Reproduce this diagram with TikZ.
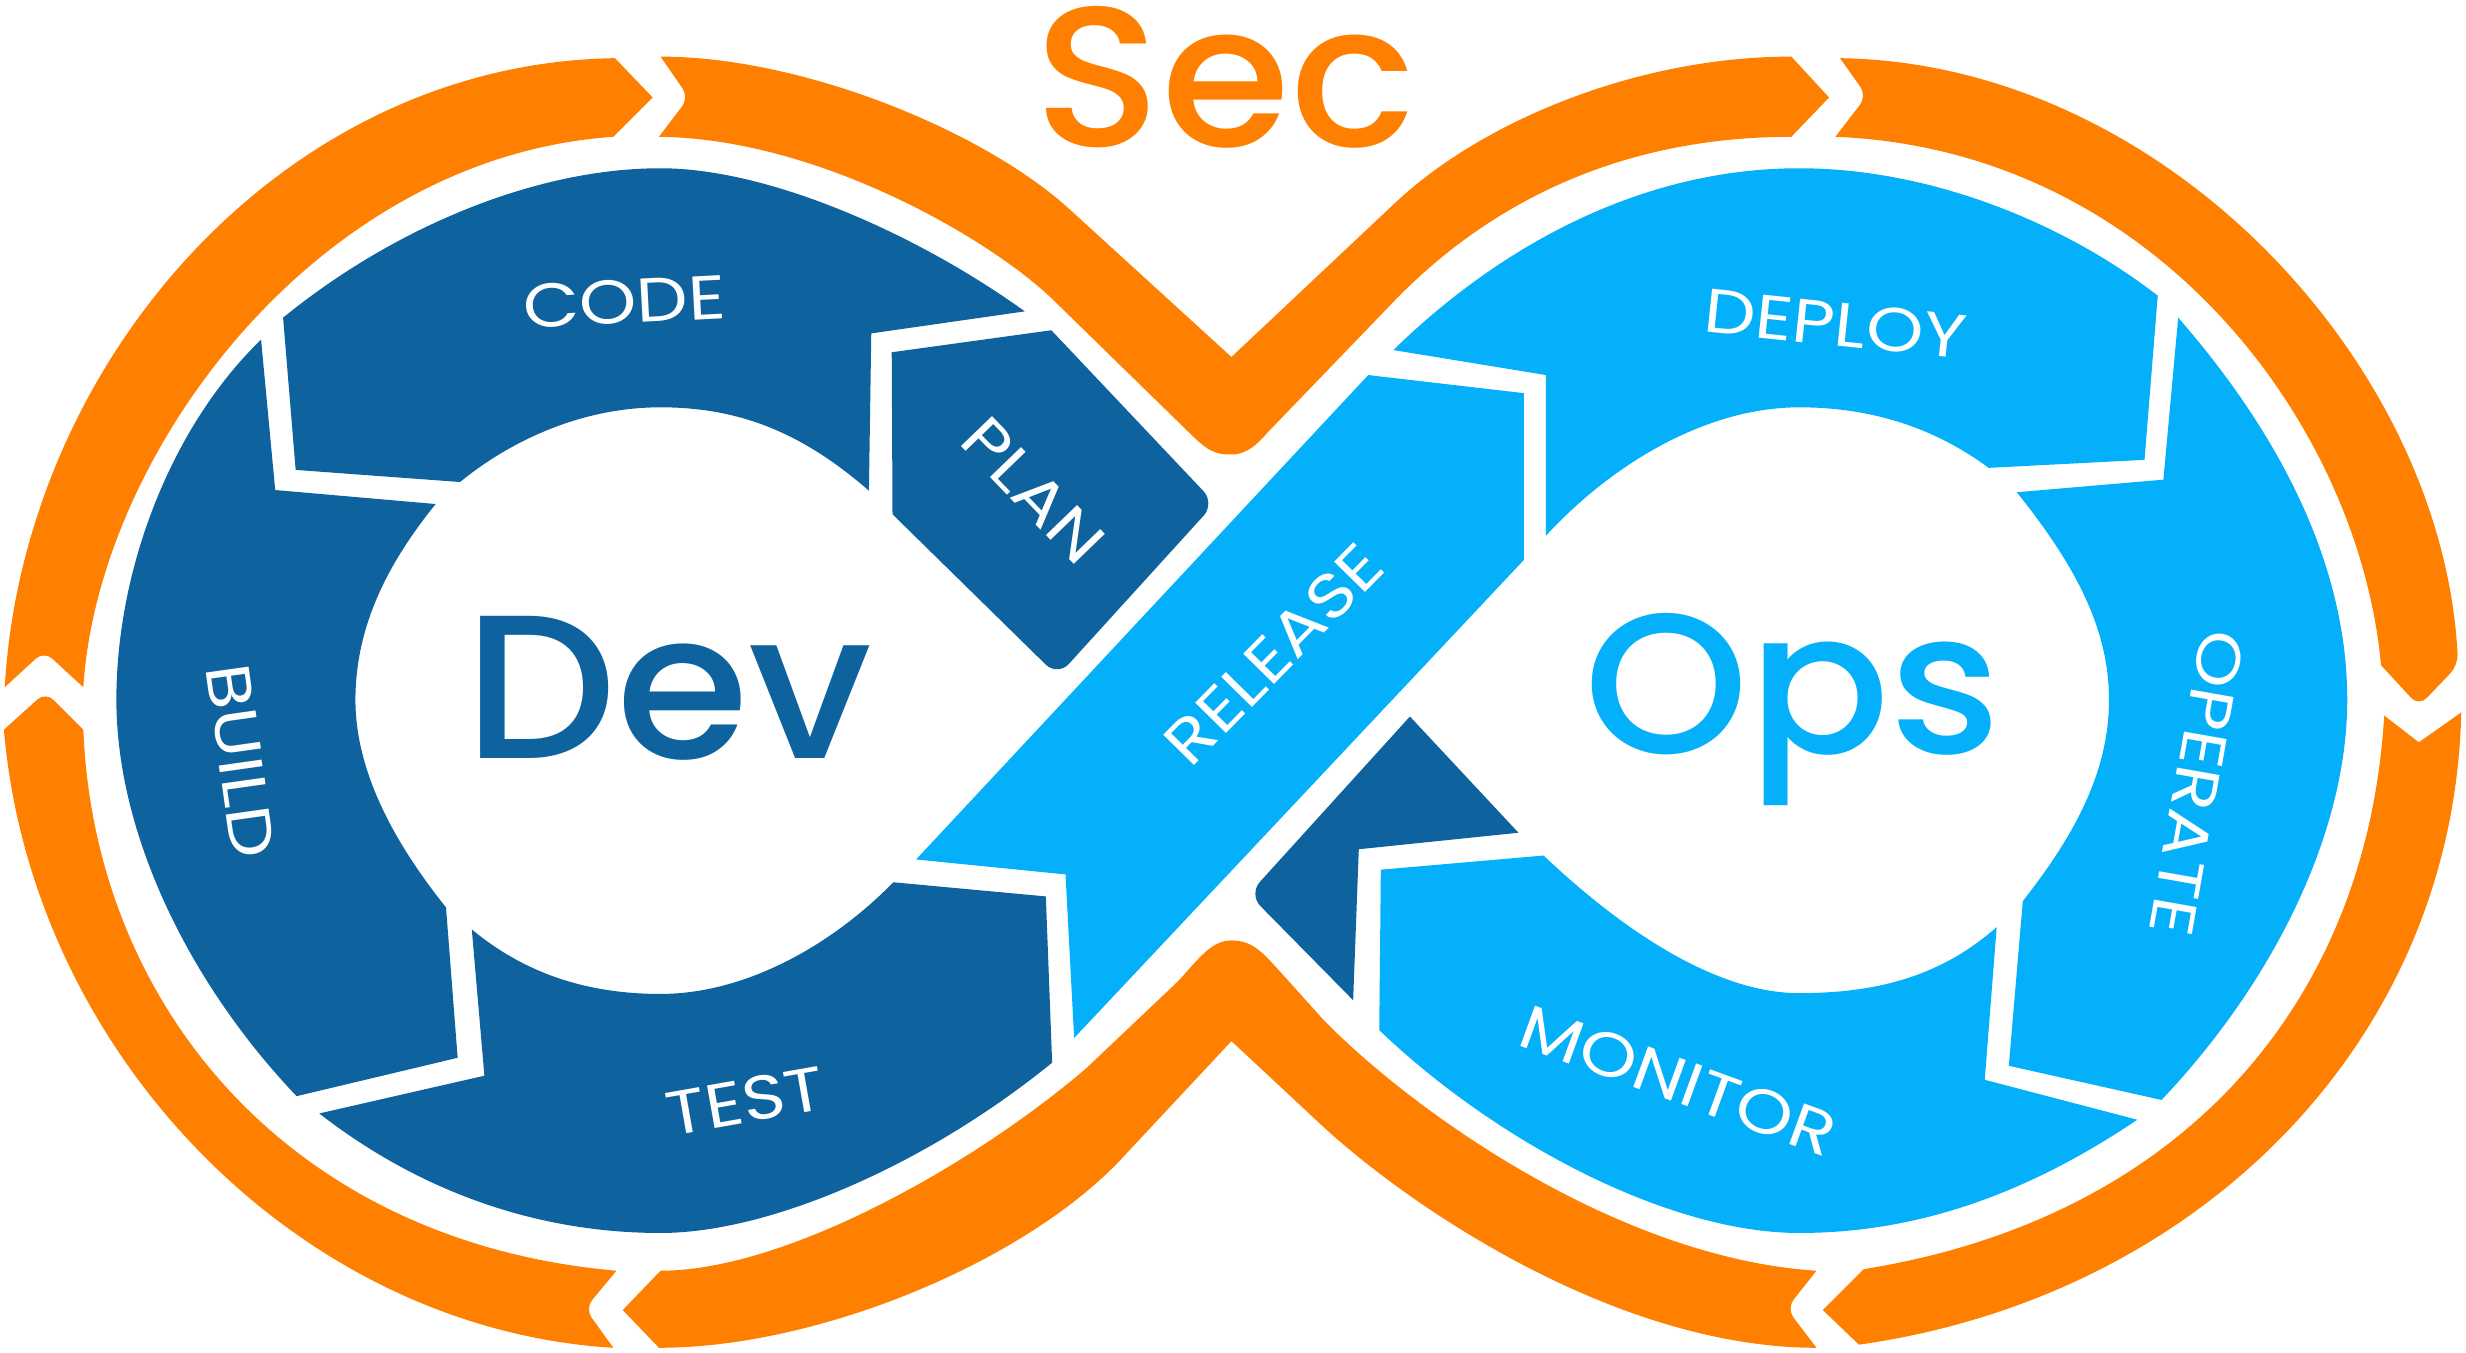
\documentclass[tikz,border=0pt]{standalone}
\usepackage{fontspec}
\setmainfont{Poppins}
\newfontfamily\stepfont[FakeStretch=1.18]{Poppins}
\newfontfamily\widefont[FakeStretch=1.05]{Poppins Medium}
\definecolor{secorange}{RGB}{255,128,0}
\definecolor{devblue}{RGB}{14,99,158}
\definecolor{opsblue}{RGB}{4,176,250}
\tikzset{
  secband/.style={fill=secorange},
  devpiece/.style={fill=devblue},
  opspiece/.style={fill=opsblue},
  steplabel/.style={text=white,font=\stepfont\fontsize{11.2}{11.2}\selectfont,inner sep=0pt},
  bigword/.style={inner sep=0pt,anchor=base}
}
\begin{document}
\begin{tikzpicture}[x=0.01cm,y=-0.01cm]
  \useasboundingbox (0,0) rectangle (1568,860.3);

  % orange band, top left
  \fill[secband] (391,37) -- (415,62) -- (390,87)
    .. controls (200,100) and (62,290) .. (53,437)
    [rounded corners=2pt] -- (28,414) [sharp corners] -- (3,437)
    .. controls (15,230) and (180,40) .. (391,37) -- cycle;
  % orange band, top middle with the V
  \fill[secband] (420,36) [rounded corners=2pt] -- (438,62) [sharp corners] -- (419,87)
    .. controls (520,88) and (630,152) .. (670,191) -- (754,273)
    .. controls (768,287) and (772,289) .. (783,289)
    .. controls (793,289) and (800,282) .. (806,275) -- (885,193)
    .. controls (930,146) and (1010,87) .. (1139,87)
    -- (1163,62) -- (1139,36)
    .. controls (1040,36) and (940,78) .. (885,131) -- (783,227) -- (680,133)
    .. controls (625,83) and (510,36) .. (420,36) -- cycle;
  % orange band, top right
  \fill[secband] (1170,37) [rounded corners=2pt] -- (1187,61) [sharp corners] -- (1167,87)
    .. controls (1370,95) and (1500,270) .. (1514,423)
    [rounded corners=2pt] -- (1538,449) -- (1563,423) [sharp corners]
    .. controls (1553,230) and (1375,40) .. (1170,37) -- cycle;
  % orange band, bottom right
  \fill[secband] (1516,455) -- (1538,472) -- (1565,453)
    .. controls (1560,665) and (1395,825) .. (1182,855)
    -- (1159,833) -- (1185,807)
    .. controls (1385,775) and (1505,640) .. (1516,455) -- cycle;
  % orange band, bottom middle
  \fill[secband] (420,808) -- (396,833) -- (419,857)
    .. controls (520,857) and (650,803) .. (712,738) -- (783,662) -- (842,717)
    .. controls (900,770) and (1030,857) .. (1155,857)
    [rounded corners=2pt] -- (1136,832) [sharp corners] -- (1155,808)
    .. controls (1030,800) and (900,708) .. (842,649) -- (815,619)
    .. controls (803,606) and (797,598) .. (783,598)
    .. controls (770,598) and (762,610) .. (749,624) -- (691,679)
    .. controls (620,740) and (500,808) .. (420,808) -- cycle;
  % orange band, bottom left
  \fill[secband] (392,808) [rounded corners=2pt] -- (372,832) [sharp corners] -- (390,857)
    .. controls (190,845) and (20,670) .. (2.5,464)
    [rounded corners=2pt] -- (29,440) [sharp corners] -- (53,464)
    .. controls (60,640) and (185,790) .. (392,808) -- cycle;

  % Dev side
  % code
  \fill[devpiece] (180,202) .. controls (250,145) and (340,107) .. (420,107)
    .. controls (490,107) and (585,150) .. (651.6,198)
    -- (554,212) -- (552.5,312)
    .. controls (510,275) and (470,259) .. (420,259)
    .. controls (370,259) and (325,280) .. (292.5,306.5)
    -- (188,298.8) -- cycle;
  % plan
  \fill[devpiece] (567,224) -- (668.5,210) [rounded corners=3pt] -- (772.5,320) -- (672.5,430) [sharp corners] -- (567.5,327) -- cycle;
  % build
  \fill[devpiece] (166,216) -- (175,311.6) -- (277,320.5)
    .. controls (245,360) and (226,400) .. (226,445)
    .. controls (226,490) and (250,535) .. (283.6,577)
    -- (291,672.6) -- (188.6,697)
    .. controls (120,625) and (74,530) .. (74,445)
    .. controls (74,360) and (110,270) .. (166,216) -- cycle;
  % test
  \fill[devpiece] (300,591) -- (308,684) -- (203,708)
    .. controls (270,760) and (345,784) .. (420,784)
    .. controls (490,784) and (590,740) .. (669,675.7)
    -- (665,570) -- (568,561)
    .. controls (530,600) and (475,632) .. (420,632)
    .. controls (375,632) and (335,620) .. (300,591) -- cycle;
  % dark corner under release
  \fill[devpiece] (896.5,455.6) -- (965.5,529.5) -- (864,540) -- (860.4,636) [rounded corners=3pt] -- (794,568.6) [sharp corners] -- cycle;

  % Ops side
  % release
  \fill[opspiece] (870,238.5) -- (969,250) -- (969,356) -- (683,660) -- (677.5,556) -- (582.5,546.5) -- cycle;
  % deploy
  \fill[opspiece] (886,222.6) .. controls (950,160) and (1040,107) .. (1144,107)
    .. controls (1225,107) and (1310,140) .. (1372,188)
    -- (1363.6,292.4) -- (1264.5,297.5)
    .. controls (1230,272) and (1190,259) .. (1144,259)
    .. controls (1085,259) and (1025,295) .. (983,340.6)
    -- (983,238.5) -- cycle;
  % operate
  \fill[opspiece] (1385,202) .. controls (1440,265) and (1492.5,350) .. (1492.5,445)
    .. controls (1492.5,530) and (1445,625) .. (1374.4,699.4)
    -- (1277.3,677.7) -- (1286.2,573)
    .. controls (1320,530) and (1341,490) .. (1341,445)
    .. controls (1341,400) and (1320,360) .. (1282.4,313)
    -- (1375.6,305) -- cycle;
  % monitor
  \fill[opspiece] (878,553) -- (981.5,544)
    .. controls (1030,590) and (1090,631.5) .. (1144,631.5)
    .. controls (1195,631.5) and (1235,620) .. (1269.6,589.5)
    -- (1262,686.6) -- (1359,712)
    .. controls (1295,755) and (1225,784) .. (1144,784)
    .. controls (1060,784) and (950,725) .. (877,655) -- cycle;

  % step labels
  \foreach \nm/\txt/\x/\y/\rot in {code/CODE/397/192/3, deploy/DEPLOY/1167/206/-6,
      plan/PLAN/657/312/-46, release/RELEASE/810/416/45.5, build/BUILD/153/484/-82,
      test/TEST/474/700/10, monitor/MONITOR/1067/687/-20, operate/OPERATE/1397/498/-100} {
    \node[steplabel,rotate=\rot] (\nm) at (\x,\y) {\txt};
  }

  % big words
  \node[bigword,text=secorange,font=\widefont\fontsize{36}{36}\selectfont] (sec) at (779,93) {Sec};
  \node[bigword,text=devblue,font=\widefont\fontsize{37}{37}\selectfont] (dev) at (425,482) {Dev};
  \node[bigword,text=opsblue,font=\widefont\fontsize{36}{36}\selectfont] (ops) at (1140,479) {Ops};
\end{tikzpicture}
\end{document}
